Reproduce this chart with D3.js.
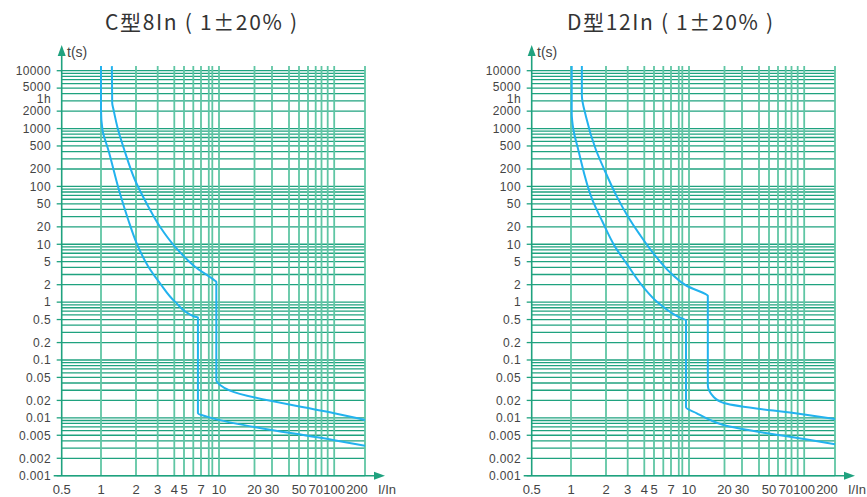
<!DOCTYPE html>
<html>
<head>
<meta charset="utf-8">
<script src="https://cdn.jsdelivr.net/npm/d3@7"></script>
<style>
  body { margin: 0; background: #fff; }
</style>
</head>
<body>
<div id="viz"></div>
<script>
// grid values along I/In and the labelled subset
const xGrid = [0.5, 1, 2, 3, 4, 5, 6, 7, 8, 9, 10, 20, 30, 40, 50, 60, 70, 80, 90, 100, 200];
const xLabels = [0.5, 1, 2, 3, 4, 5, 7, 10, 20, 30, 50, 70, 100, 200];
// t(s) labels
const yLabels = [10000, 5000, 3600, 2000, 1000, 500, 200, 100, 50, 20, 10, 5, 2, 1,
                 0.5, 0.2, 0.1, 0.05, 0.02, 0.01, 0.005, 0.002, 0.001];
const yLabelText = ["10000", "5000", "1h", "2000", "1000", "500", "200", "100", "50", "20", "10", "5", "2", "1",
                    "0.5", "0.2", "0.1", "0.05", "0.02", "0.01", "0.005", "0.002", "0.001"];

const titles = ["C型8In ( 1±20% )", "D型12In ( 1±20% )"];

// tripping curves, [I/In, t(s)]
const cLower = [[1.0, 12000], [1.0, 2090], [1.043, 944], [1.21, 426], [1.54, 76], [1.78, 26.3], [2.03, 10.4],
                [2.57, 4.1], [3.14, 2.12], [4.07, 1.02], [6.22, 0.56], [6.6, 0.55],
                [6.6, 0.012], [7.76, 0.0105], [9.66, 0.0094], [100, 0.0041], [200, 0.0033]];
const cUpper = [[1.31, 12000], [1.32, 2760], [1.36, 2090], [1.49, 944], [1.667, 426], [1.97, 129],
                [2.57, 44.7], [3.14, 20.1], [4.07, 9.1], [6.22, 4.1], [9.4, 2.35], [9.6, 2.25],
                [9.6, 0.045], [10.3, 0.037], [13.1, 0.0295], [100, 0.012], [200, 0.0092]];
const dLower = [[1.02, 12000], [1.02, 1860], [1.071, 944], [1.209, 426], [1.614, 58], [1.9, 24.5], [2.415, 9.1],
                [2.99, 4.4], [3.92, 1.85], [5.51, 0.955], [7.9, 0.56], [9.55, 0.48],
                [9.55, 0.0152], [12.2, 0.012], [15.9, 0.0092], [19.7, 0.0075], [100, 0.0043], [200, 0.0035]];
const dUpper = [[1.31, 12000], [1.31, 3800], [1.429, 1600], [1.714, 426], [1.957, 192], [2.507, 66],
                [3.02, 30], [3.74, 14.5], [5.215, 6.1], [7.0, 3.15], [9.7, 1.9], [14.99, 1.34], [15.3, 1.3],
                [15.3, 0.037], [16.9, 0.0232], [20.1, 0.0179], [100, 0.0114], [200, 0.0095]];

const W = 867, H = 497;
const gridH = "#1fa27f", gridV = "#5fc6a4", curveCol = "#22b2ee", textCol = "#444";

// the printed I/In axis is not a true log axis: piecewise scale through its gridlines
const xStops = [61.7, 101, 136, 157.7, 174.3, 184, 193.3, 201, 208.8, 212.3, 219,
                254.5, 272, 289, 299, 308, 315.7, 321.5, 327.7, 334.2, 365];
const x = d3.scaleLinear().domain(xGrid).range(xStops);
const y = d3.scaleLog().domain([0.001, 10000]).range([475.7, 70.7]);

const svg = d3.select("#viz").append("svg")
    .attr("width", W)
    .attr("height", H)
    .style("font-family", "'Liberation Sans', Arial, sans-serif");

function drawChart(dx, title, titleW, lower, upper) {
    const g = svg.append("g").attr("transform", `translate(${dx},0)`);
    const x0 = x(0.5), x1 = x(200), yTop = y(12000), yBot = y(0.001);

    // horizontal grid
    g.append("g").selectAll("line")
        .data(y.ticks())
        .enter().append("line")
        .attr("x1", x0).attr("x2", x1)
        .attr("y1", d => y(d)).attr("y2", d => y(d))
        .attr("stroke", gridH)
        .attr("stroke-width", 1.3);

    // vertical grid
    g.append("g").selectAll("line")
        .data(xGrid.slice(1))
        .enter().append("line")
        .attr("x1", d => x(d)).attr("x2", d => x(d))
        .attr("y1", yTop).attr("y2", yBot)
        .attr("stroke", gridV)
        .attr("stroke-width", 1.8);

    // axes with arrows
    g.append("line")
        .attr("x1", x0).attr("x2", x0).attr("y1", 52).attr("y2", yBot)
        .attr("stroke", gridH).attr("stroke-width", 1.6);
    g.append("path")
        .attr("d", `M${x0},45L${x0 - 4},56L${x0 + 4},56Z`)
        .attr("fill", gridH);
    g.append("line")
        .attr("x1", x0 - 8).attr("x2", x1 + 12).attr("y1", yBot).attr("y2", yBot)
        .attr("stroke", gridH).attr("stroke-width", 1.6);
    g.append("path")
        .attr("d", `M${x1 + 20},${yBot}L${x1 + 9},${yBot - 4}L${x1 + 9},${yBot + 4}Z`)
        .attr("fill", gridH);

    // y ticks + labels
    g.append("g").selectAll("line")
        .data(yLabels.filter(d => d !== 3600))
        .enter().append("line")
        .attr("x1", x0 - 5).attr("x2", x0)
        .attr("y1", d => y(d)).attr("y2", d => y(d))
        .attr("stroke", gridH).attr("stroke-width", 1.3);
    g.append("g").selectAll("text")
        .data(yLabels)
        .enter().append("text")
        .attr("x", 51)
        .attr("y", d => y(d) + (d === 3600 ? 2.5 : d === 5000 ? -1.5 : 0))
        .attr("dy", "0.36em")
        .attr("text-anchor", "end")
        .attr("font-size", "12px")
        .attr("letter-spacing", "0.4px")
        .attr("fill", textCol)
        .text((d, i) => yLabelText[i]);

    // x labels
    g.append("g").selectAll("text")
        .data(xLabels)
        .enter().append("text")
        .attr("x", d => x(d) - (d === 200 ? 8 : 0))
        .attr("y", 494)
        .attr("text-anchor", "middle")
        .attr("font-size", "13px")
        .attr("fill", textCol)
        .text(d => d);

    g.append("text")
        .attr("x", 67).attr("y", 57)
        .attr("font-size", "14px")
        .attr("fill", textCol)
        .text("t(s)");
    g.append("text")
        .attr("x", 378).attr("y", 494)
        .attr("font-size", "13px")
        .attr("fill", textCol)
        .text("I/In");

    // curves: t falls monotonically along each one, so interpolate x against y
    const line = d3.line()
        .x(d => x(d[0]))
        .y(d => y(d[1]))
        .curve(d3.curveMonotoneY);
    [lower, upper].forEach(c => {
        g.append("path")
            .attr("d", line(c))
            .attr("fill", "none")
            .attr("stroke", curveCol)
            .attr("stroke-width", 2);
    });

    // title
    g.append("text")
        .attr("x", dx === 0 ? 105 : 97)
        .attr("y", 30)
        .attr("font-family", "'Noto Sans CJK SC', sans-serif")
        .attr("font-size", "21px")
        .attr("fill", "#333")
        .attr("textLength", titleW)
        .attr("lengthAdjust", "spacing")
        .text(title);
}

drawChart(0, titles[0], 192, cLower, cUpper);
drawChart(470, titles[1], 206, dLower, dUpper);
</script>
</body>
</html>
